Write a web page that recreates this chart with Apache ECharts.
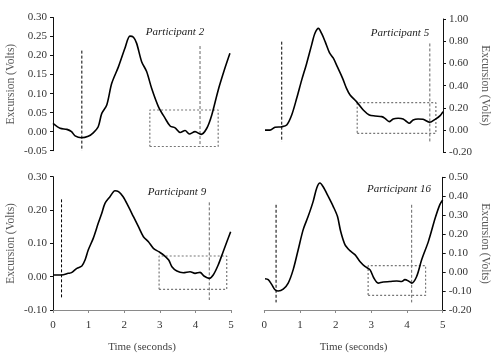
<!DOCTYPE html>
<html><head><meta charset="utf-8">
<script src="https://cdn.jsdelivr.net/npm/echarts@6/dist/echarts.min.js"></script>
<style>html,body{margin:0;padding:0;background:#fff}#c{width:500px;height:356px}</style>
</head><body><div id="c"></div>
<script>
// Participant 2
var p2T = [0,0.2,0.39,0.52,0.62,0.8,0.99,1.13,1.27,1.37,1.51,1.65,1.84,2.02,2.16,2.26,2.35,2.49,2.63,2.77,2.96,3.15,3.29,3.43,3.57,3.71,3.83,3.99,4.16,4.32,4.46,4.64,4.83,4.97];
var p2V = [0.022,0.009,0.006,0.0,-0.011,-0.016,-0.012,-0.003,0.013,0.048,0.070,0.127,0.171,0.219,0.251,0.248,0.232,0.184,0.158,0.114,0.066,0.035,0.015,0.01,-0.002,0.003,-0.006,0,-0.007,0.009,0.044,0.109,0.167,0.206];
var p2MarkX = [0.81, 4.13], p2MarkTop = [0.213, 0.225], p2MarkBottom = [-0.05, -0.039];
var p2Box = [2.72, 4.64, -0.039, 0.057];
// Participant 5
var p5T = [0,0.14,0.28,0.47,0.61,0.75,0.89,1.03,1.17,1.31,1.40,1.5,1.59,1.69,1.81,1.92,2.03,2.18,2.29,2.39,2.57,2.76,2.93,3.09,3.28,3.37,3.49,3.6,3.74,3.88,3.98,4.05,4.16,4.3,4.44,4.63,4.78,4.92,5.0];
var p5V = [0.0,0.0,0.025,0.03,0.046,0.136,0.286,0.45,0.60,0.767,0.87,0.916,0.87,0.796,0.697,0.647,0.571,0.466,0.376,0.316,0.256,0.181,0.136,0.127,0.121,0.106,0.076,0.1,0.106,0.10,0.076,0.061,0.091,0.1,0.097,0.07,0.097,0.13,0.166];
var p5MarkX = [0.47, 4.63], p5MarkTop = [0.796, 0.78], p5MarkBottom = [-0.105, -0.12];
var p5Box = [2.59, 4.8, -0.029, 0.247];
// Participant 9
var p9T = [0,0.24,0.43,0.52,0.67,0.81,0.9,0.99,1.13,1.27,1.37,1.46,1.6,1.74,1.84,1.97,2.12,2.26,2.4,2.54,2.68,2.82,2.97,3.11,3.25,3.34,3.48,3.66,3.85,3.99,4.13,4.24,4.39,4.5,4.64,4.78,4.99];
var p9V = [0.005,0.005,0.01,0.012,0.025,0.032,0.05,0.08,0.115,0.16,0.19,0.22,0.24,0.258,0.255,0.24,0.21,0.18,0.15,0.12,0.105,0.085,0.075,0.065,0.05,0.03,0.017,0.012,0.015,0.01,0.013,0.002,-0.005,0.005,0.035,0.075,0.135];
var p9MarkX = [0.24, 4.39], p9MarkTop = [0.232, 0.223], p9MarkBottom = [-0.065, -0.07];
var p9Box = [2.98, 4.88, -0.038, 0.062];
// Participant 16
var p16T = [0.02,0.11,0.21,0.3,0.39,0.53,0.67,0.81,0.95,1.09,1.23,1.37,1.47,1.56,1.65,1.79,1.93,2.05,2.14,2.26,2.4,2.54,2.68,2.82,2.96,3.07,3.19,3.33,3.52,3.71,3.85,3.94,4.04,4.13,4.27,4.41,4.6,4.79,4.92,5.0];
var p16V = [-0.035,-0.04,-0.066,-0.093,-0.10,-0.09,-0.058,0.013,0.118,0.224,0.294,0.373,0.444,0.47,0.45,0.40,0.347,0.294,0.215,0.145,0.113,0.092,0.056,0.03,0.013,-0.031,-0.058,-0.052,-0.05,-0.047,-0.05,-0.04,-0.047,-0.058,-0.023,0.065,0.162,0.285,0.356,0.38];
var p16MarkX = [0.33, 4.13], p16MarkTop = [0.355, 0.355], p16MarkBottom = [-0.16, -0.16];
var p16Box = [2.91, 4.52, -0.123, 0.034];

var titles = ['Participant 2', 'Participant 5', 'Participant 9', 'Participant 16'];
var yMin = [-0.05, -0.2, -0.1, -0.2], yMax = [0.30, 1.0, 0.30, 0.50], yStep = [0.05, 0.2, 0.1, 0.1];

var FONT = '"Liberation Serif", "DejaVu Serif", serif';
var grids = [
  {left: 53, top: 17.5, width: 178, height: 133.2},
  {left: 265, top: 19, width: 178, height: 133.3},
  {left: 53, top: 176.7, width: 178, height: 133.3},
  {left: 264.3, top: 177.3, width: 178.4, height: 132.7}
];
var data = [
  [p2T, p2V, p2MarkX, p2MarkTop, p2MarkBottom, p2Box],
  [p5T, p5V, p5MarkX, p5MarkTop, p5MarkBottom, p5Box],
  [p9T, p9V, p9MarkX, p9MarkTop, p9MarkBottom, p9Box],
  [p16T, p16V, p16MarkX, p16MarkTop, p16MarkBottom, p16Box]
];
var titlePos = [[175, 32], [400, 33], [177, 192], [399, 189]];

var xAxes = [], yAxes = [], series = [], graphics = [];
for (var i = 0; i < 4; i++) {
  var bottomRow = i >= 2, rightCol = (i % 2) === 1;
  xAxes.push({
    gridIndex: i, type: 'value', min: 0, max: 5, interval: 1, show: bottomRow,
    axisLine: {show: bottomRow, onZero: false, lineStyle: {color: '#8a8a8a', width: 1}},
    axisTick: {show: true, length: 3, lineStyle: {color: '#8a8a8a'}},
    axisLabel: {fontFamily: FONT, fontSize: 11, color: '#333', margin: 10},
    splitLine: {show: false},
    name: bottomRow ? 'Time (seconds)' : '', nameLocation: 'middle', nameGap: 32,
    nameTextStyle: {fontFamily: FONT, fontSize: 11, color: '#444'}
  });
  yAxes.push({
    gridIndex: i, type: 'value', min: yMin[i], max: yMax[i], interval: yStep[i],
    position: rightCol ? 'right' : 'left',
    axisLine: {show: true, onZero: false, lineStyle: {color: '#111', width: 1}},
    axisTick: {show: true, length: 3, lineStyle: {color: '#111'}},
    axisLabel: {fontFamily: FONT, fontSize: 11, color: '#333', margin: 6,
      formatter: function (v) { return v.toFixed(2); }},
    splitLine: {show: false},
    name: 'Excursion (Volts)', nameLocation: 'middle', nameGap: 36,
    nameRotate: rightCol ? -90 : 90,
    nameTextStyle: {fontFamily: FONT, fontSize: 11.5, color: '#555'}
  });
  var d = data[i];
  var pts = d[0].map(function (t, k) { return [t, d[1][k]]; });
  series.push({type: 'line', xAxisIndex: i, yAxisIndex: i, data: pts, smooth: 0.3,
    showSymbol: false, lineStyle: {color: '#000', width: 1.6}, z: 5, silent: true});
  for (var m = 0; m < 2; m++) {
    series.push({type: 'line', xAxisIndex: i, yAxisIndex: i,
      data: [[d[2][m], d[3][m]], [d[2][m], d[4][m]]], showSymbol: false, silent: true,
      lineStyle: {color: m === 0 ? '#000' : '#666', width: 1, type: [3, 2]}});
  }
  var b = d[5];
  series.push({type: 'line', xAxisIndex: i, yAxisIndex: i, showSymbol: false, silent: true,
    data: [[b[0], b[2]], [b[1], b[2]], [b[1], b[3]], [b[0], b[3]], [b[0], b[2]]],
    lineStyle: {color: '#777', width: 1.2, type: [2, 2]}});
  graphics.push({type: 'text', x: titlePos[i][0], y: titlePos[i][1],
    style: {text: titles[i], font: 'italic 11px ' + FONT, fill: '#222', align: 'center', verticalAlign: 'middle'}});
}

var chart = echarts.init(document.getElementById('c'), null, {renderer: 'canvas'});
chart.setOption({
  animation: false,
  backgroundColor: '#fff',
  grid: grids,
  xAxis: xAxes,
  yAxis: yAxes,
  series: series,
  graphic: graphics
});
</script></body></html>
